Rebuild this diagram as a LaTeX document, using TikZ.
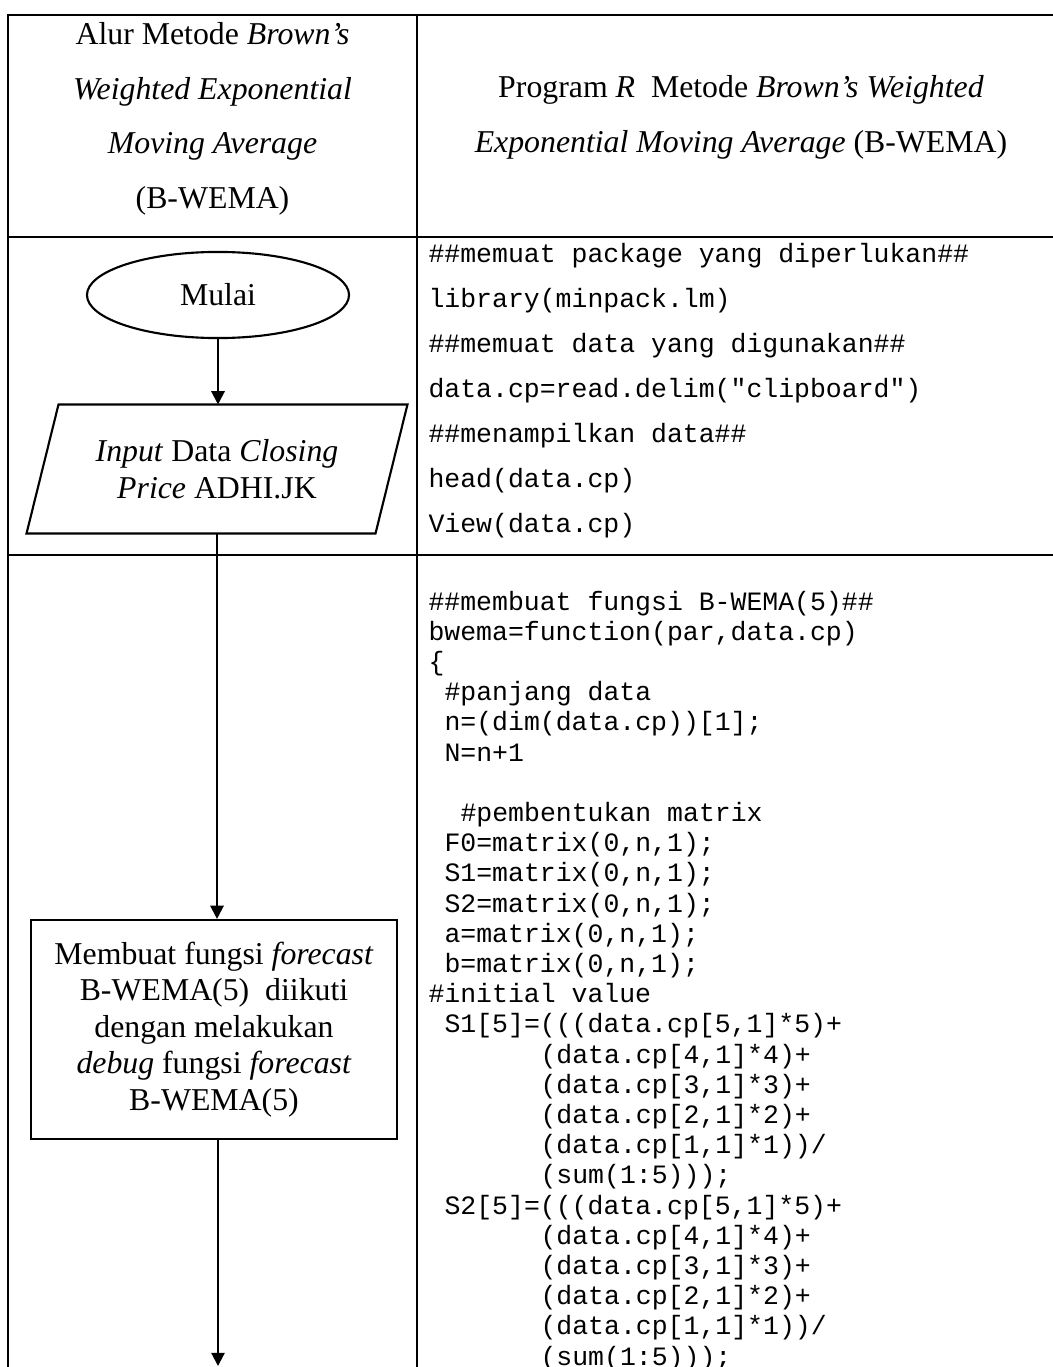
\documentclass[tikz,border=0pt]{standalone}
\usepackage{fontspec}
\setmainfont{Liberation Serif}
\setmonofont{Liberation Mono}
\usetikzlibrary{shapes.geometric,arrows.meta,calc}

\begin{document}
\begin{tikzpicture}[x=0.3774pt,y=-0.3774pt,
  rule/.style={line width=1pt, line cap=rect},
  shapeline/.style={draw, line width=0.8pt},
  flow/.style={line width=0.8pt, -{Triangle[length=5pt,width=5pt]}},
  serif/.style={font=\fontsize{12}{13.8}\selectfont, inner sep=0pt},
  hdr/.style={serif, anchor=base},
  code/.style={font=\fontsize{10}{11.3}\selectfont\ttfamily, inner sep=0pt, anchor=base west}]
\useasboundingbox (0,0) rectangle (1053,1367);

% table rules
\draw[rule] (1053,15) -- (8,15) -- (8,1367);
\draw[rule] (417,15) -- (417,1367);
\draw[rule] (8,237) -- (1053,237);
\draw[rule] (8,555) -- (1053,555);

% column headings
\node[hdr] (hl1) at (212.5,45)  {Alur Metode \textit{Brown's}};
\node[hdr] (hl2) at (212.5,100) {\textit{Weighted Exponential}};
\node[hdr] (hl3) at (212.5,154) {\textit{Moving Average}};
\node[hdr] (hl4) at (212.5,209) {(B-WEMA)};
\node[hdr] (hr1) at (741,98)  {Program \textit{R}\ \ Metode \textit{Brown's Weighted}};
\node[hdr] (hr2) at (741,153) {\textit{Exponential Moving Average} (B-WEMA)};

% flowchart
\node[serif, shapeline, ellipse, minimum width=98.9pt, minimum height=32.5pt] (start) at (218,295) {Mulai};
\node[serif, align=center, minimum width=131.3pt, minimum height=48.3pt] (input) at (217,469)
  {\textit{Input} Data \textit{Closing}\\\textit{Price} ADHI.JK};
\draw[shapeline] ($(input.north west)+(16,0)$) -- ($(input.north east)+(16,0)$)
  -- ($(input.south east)+(-16,0)$) -- ($(input.south west)+(-16,0)$) -- cycle;
\node[serif, shapeline, align=center, minimum width=138.1pt, minimum height=82.65pt] (proc) at (214,1029.5)
  {Membuat fungsi \textit{forecast}\\B-WEMA(5)\ \ diikuti\\dengan melakukan\\\textit{debug} fungsi \textit{forecast}\\B-WEMA(5)};
\coordinate (end) at (218,1366);

\draw[flow] (start.south) -- (start.south |- input.north);
\draw[flow] (input.south) -- (input.south |- proc.north);
\draw[flow] (proc.south -| end) -- (end);

% R code: loading the data
\foreach \ln/\txt in {
  0/{\#\#memuat package yang diperlukan\#\#},
  1/{library(minpack.lm)},
  2/{\#\#memuat data yang digunakan\#\#},
  3/{data.cp=read.delim("clipboard")},
  4/{\#\#menampilkan data\#\#},
  5/{head(data.cp)},
  6/{View(data.cp)}}
  \node[code] (load\ln) at (428,{262+45.1*\ln}) {\txt};

% R code: the B-WEMA(5) function
\foreach \ln/\ind/\txt in {
  0/0/{\#\#membuat fungsi B-WEMA(5)\#\#},
  1/0/{bwema=function(par,data.cp)},
  2/0/{\{},
  3/1/{\#panjang data},
  4/1/{n=(dim(data.cp))[1];},
  5/1/{N=n+1},
  7/2/{\#pembentukan matrix},
  8/1/{F0=matrix(0,n,1);},
  9/1/{S1=matrix(0,n,1);},
  10/1/{S2=matrix(0,n,1);},
  11/1/{a=matrix(0,n,1);},
  12/1/{b=matrix(0,n,1);},
  13/0/{\#initial value},
  14/1/{S1[5]=(((data.cp[5,1]*5)+},
  15/7/{(data.cp[4,1]*4)+},
  16/7/{(data.cp[3,1]*3)+},
  17/7/{(data.cp[2,1]*2)+},
  18/7/{(data.cp[1,1]*1))/},
  19/7/{(sum(1:5)));},
  20/1/{S2[5]=(((data.cp[5,1]*5)+},
  21/7/{(data.cp[4,1]*4)+},
  22/7/{(data.cp[3,1]*3)+},
  23/7/{(data.cp[2,1]*2)+},
  24/7/{(data.cp[1,1]*1))/},
  25/7/{(sum(1:5)));}}
  \node[code] (fn\ln) at ({428+16*\ind},{610+30.2*\ln}) {\txt};
\end{tikzpicture}
\end{document}
